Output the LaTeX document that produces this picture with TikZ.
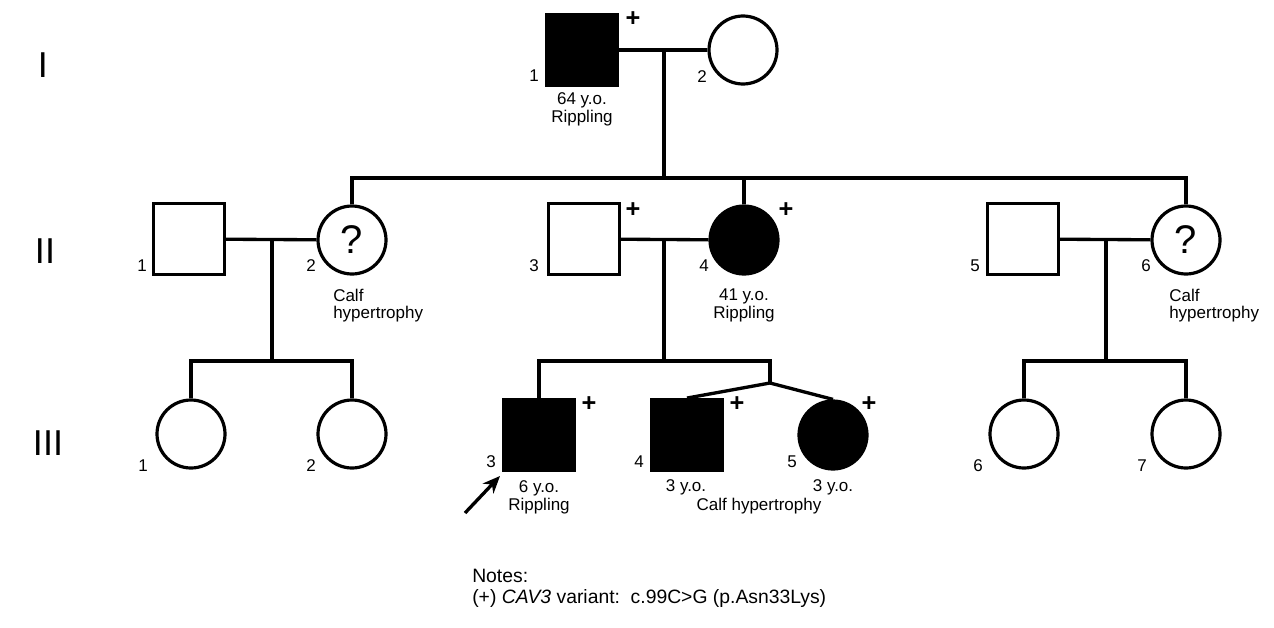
\documentclass[tikz,border=0pt]{standalone}
\usepackage{fontspec}
\setmainfont{Liberation Sans}
\usetikzlibrary{arrows.meta}
\begin{document}
\begin{tikzpicture}[x=0.75pt,y=-0.75pt,
  ind/.style={draw=black, line width=2.4pt, inner sep=0pt, fill=white},
  male/.style={ind, rectangle, minimum size=53pt},
  female/.style={ind, circle, minimum size=51pt},
  aff/.style={fill=black},
  lnk/.style={draw=black, line width=2.5pt},
  num/.style={font=\fontsize{12.75}{14}\selectfont, inner sep=0pt},
  info/.style={font=\fontsize{12.75}{13.5}\selectfont, align=center, inner sep=0pt},
  infol/.style={font=\fontsize{12.75}{13}\selectfont, align=left, inner sep=0pt, anchor=north west},
  plus/.style={font=\fontsize{19}{19}\selectfont\bfseries, inner sep=0pt},
  gen/.style={font=\fontsize{27}{27}\selectfont, inner sep=0pt},
  notes/.style={font=\fontsize{14.5}{16}\selectfont, align=left, inner sep=0pt, anchor=north west}]
\useasboundingbox (0,0) rectangle (1274,628);

% generation labels
\node[gen] (gI) at (43,65) {I};
\node[gen] (gII) at (45,251) {II};
\node[gen] (gIII) at (48,443) {III};

% Generation I
\node[male,aff] (I1) at (582,50) {};
\node[female] (I2) at (743,50) {};
\node[plus] (pI1) at (633,19) {+};
\node[num] (nI1) at (534,76) {1};
\node[num] (nI2) at (702,77) {2};
\node[info] (tI1) at (582,109) {64 y.o.\\Rippling};

% Generation II
\node[male] (II1) at (189,239) {};
\node[female] (II2) at (352,240) {\fontsize{30}{30}\selectfont ?};
\node[male] (II3) at (584,239) {};
\node[female,aff] (II4) at (744,240) {};
\node[male] (II5) at (1023,239) {};
\node[female] (II6) at (1186,240) {\fontsize{30}{30}\selectfont ?};
\node[num] (nII1) at (142,266) {1};
\node[num] (nII2) at (311,266) {2};
\node[num] (nII3) at (534,266) {3};
\node[num] (nII4) at (704,266) {4};
\node[num] (nII5) at (975,266) {5};
\node[num] (nII6) at (1146,266) {6};
\node[plus] (pII3) at (633,210) {+};
\node[plus] (pII4) at (786,210) {+};
\node[infol] (tII2) at (333,289) {Calf\\hypertrophy};
\node[info] (tII4) at (744,305) {41 y.o.\\Rippling};
\node[infol] (tII6) at (1169,289) {Calf\\hypertrophy};

% Generation III
\node[female] (III1) at (191,434) {};
\node[female] (III2) at (352,434) {};
\node[male,aff] (III3) at (539,435) {};
\node[male,aff] (III4) at (687,435) {};
\node[female,aff] (III5) at (833,435) {};
\node[female] (III6) at (1024,434) {};
\node[female] (III7) at (1186,434) {};
\node[num] (nIII1) at (143,466) {1};
\node[num] (nIII2) at (311,466) {2};
\node[num] (nIII3) at (491,462) {3};
\node[num] (nIII4) at (639,462) {4};
\node[num] (nIII5) at (792,462) {5};
\node[num] (nIII6) at (978,466) {6};
\node[num] (nIII7) at (1142,466) {7};
\node[plus] (pIII3) at (589,404) {+};
\node[plus] (pIII4) at (737,404) {+};
\node[plus] (pIII5) at (869,404) {+};
\node[info] (tIII3) at (539,497) {6 y.o.\\Rippling};
\node[info] (tIII4) at (686,487) {3 y.o.};
\node[info] (tIII5) at (833,487) {3 y.o.};
\node[info] (tIII45) at (759,506) {Calf hypertrophy};

% coordinates
\coordinate (mI) at (664,50);
\coordinate (sI) at (664,178);
\coordinate (m1) at (272,239);
\coordinate (s1) at (272,361);
\coordinate (m2) at (664,239);
\coordinate (s2) at (664,361);
\coordinate (m3) at (1106,239);
\coordinate (s3) at (1106,361);
\coordinate (tw) at (770,383);
\coordinate (arT) at (465,513);
\coordinate (arH) at (500,476);

% connectors
\draw[lnk] (I1) -- (I2);
\draw[lnk] (mI) -- (sI);
\draw[lnk] (II2.north) |- (sI) -| (II6.north);
\draw[lnk] (sI -| II4.north) -- (II4.north);

\draw[lnk] (II1) -- (II2);
\draw[lnk] (II3) -- (II4);
\draw[lnk] (II5) -- (II6);
\draw[lnk] (m1) -- (s1);
\draw[lnk] (m2) -- (s2);
\draw[lnk] (m3) -- (s3);

\draw[lnk] (III1.north) |- (s1) -| (III2.north);
\draw[lnk] (III3.north) |- (s2) -| (tw);
\draw[lnk] (III4.north) -- (tw) -- (III5.north);
\draw[lnk] (III6.north) |- (s3) -| (III7.north);

\draw[line width=2.5pt, -{Stealth[length=13pt,width=11pt]}] (arT) -- (arH);

% notes
\node[notes] (notes) at (472,569) {Notes:\\(+) \textit{CAV3} variant:\ \ c.99C>G (p.Asn33Lys)};
\end{tikzpicture}
\end{document}
